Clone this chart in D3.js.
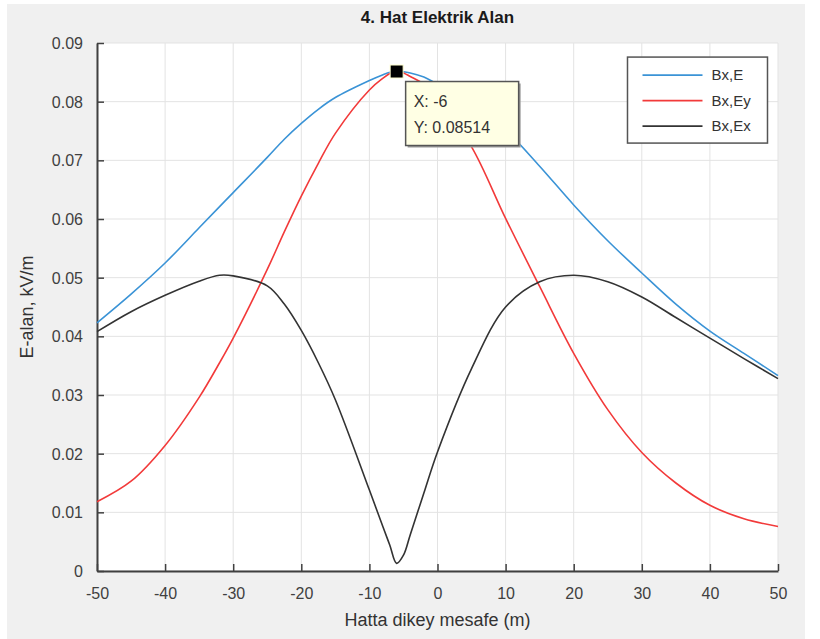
<!DOCTYPE html>
<html>
<head>
<meta charset="utf-8">
<script src="https://cdn.jsdelivr.net/npm/d3@7"></script>
<style>
  html, body { margin: 0; padding: 0; background: #ffffff; }
  svg { display: block; font-family: "Liberation Sans", Arial, sans-serif; }
</style>
</head>
<body>
<div id="chart"></div>
<script>
// distance from the line (m)
const xs = [-50, -45, -40, -35, -32, -30, -25, -22.5, -20, -17.5, -15, -10, -8, -7, -6, -5, -4, -2, 0, 5, 10, 15, 20, 25, 30, 35, 40, 45, 50];

// total field E
const eTotal = [0.0423, 0.0472, 0.0525, 0.0585, 0.0621, 0.0645, 0.0705, 0.0736, 0.0763, 0.0787, 0.0807, 0.0836, 0.0846, 0.0850, 0.08514, 0.0851, 0.0849, 0.0842, 0.0830,
  0.0800, 0.0752, 0.0690, 0.0624, 0.0563, 0.0508, 0.0455, 0.0409, 0.0371, 0.0333];

// vertical component Ey
const eY = [0.0118, 0.0153, 0.0214, 0.0296, 0.0355, 0.0397, 0.0514, 0.0578, 0.0639, 0.0695, 0.0746, 0.0820, 0.0840, 0.0848, 0.08514, 0.0849, 0.0843, 0.0830, 0.0805,
  0.0723, 0.0601, 0.0485, 0.0371, 0.0275, 0.0202, 0.0150, 0.0112, 0.0089, 0.0076];

// horizontal component Ex
const eX = [0.0408, 0.0442, 0.0470, 0.0494, 0.0504, 0.0503, 0.0486, 0.0455, 0.0410, 0.0355, 0.0292, 0.0138, 0.0075, 0.0044, 0.0013, 0.0027, 0.0062, 0.0133, 0.0203,
  0.0345, 0.0450, 0.0493, 0.0504, 0.0493, 0.0467, 0.0432, 0.0397, 0.0362, 0.0328];

const seriesNames = ["Bx,E", "Bx,Ey", "Bx,Ex"];
const seriesColors = ["#3a93d6", "#f23a3a", "#333333"];

const xTicks = [-50, -40, -30, -20, -10, 0, 10, 20, 30, 40, 50];
const yTicks = [0, 0.01, 0.02, 0.03, 0.04, 0.05, 0.06, 0.07, 0.08, 0.09];

const tipX = -6;
const tipY = 0.08514;

const W = 820, H = 639;
const margin = { top: 43, right: 42, bottom: 68, left: 97 };
const width = W - margin.left - margin.right;
const height = H - margin.top - margin.bottom;

const svg = d3.select("#chart").append("svg")
  .attr("width", W)
  .attr("height", H);

// figure background
svg.append("rect")
  .attr("x", 7).attr("y", 4)
  .attr("width", 798).attr("height", H - 4)
  .attr("fill", "#f0f0f0");

const g = svg.append("g")
  .attr("transform", `translate(${margin.left},${margin.top})`);

const x = d3.scaleLinear().domain([-50, 50]).range([0, width]);
const y = d3.scaleLinear().domain([0, 0.09]).range([height, 0]);

g.append("rect")
  .attr("width", width).attr("height", height)
  .attr("fill", "#ffffff");

// grid
g.append("g")
  .selectAll("line")
  .data(xTicks)
  .join("line")
  .attr("x1", (d) => x(d)).attr("x2", (d) => x(d))
  .attr("y1", 0).attr("y2", height)
  .attr("stroke", "#e3e3e3").attr("stroke-width", 1);

g.append("g")
  .selectAll("line")
  .data(yTicks)
  .join("line")
  .attr("x1", 0).attr("x2", width)
  .attr("y1", (d) => y(d)).attr("y2", (d) => y(d))
  .attr("stroke", "#e3e3e3").attr("stroke-width", 1);

// axes, ticks pointing inward
const xAxis = g.append("g")
  .attr("transform", `translate(0,${height})`)
  .call(d3.axisBottom(x).tickValues(xTicks).tickSizeInner(-7).tickSizeOuter(0).tickPadding(17)
    .tickFormat((d) => String(d)));

const yAxis = g.append("g")
  .call(d3.axisLeft(y).tickValues(yTicks).tickSizeInner(-7).tickSizeOuter(0).tickPadding(14)
    .tickFormat((d) => (d === 0 ? "0" : d.toFixed(2))));

[xAxis, yAxis].forEach((ax) => {
  ax.select(".domain").attr("stroke", "#404040").attr("stroke-width", 2);
  ax.selectAll(".tick line").attr("stroke", "#404040").attr("stroke-width", 1.5);
  ax.selectAll(".tick text")
    .attr("fill", "#404040")
    .attr("font-size", "16px")
    .attr("font-family", "Liberation Sans, Arial, sans-serif");
});
yAxis.selectAll(".tick text").attr("dy", "0.35em");

// curves
const series = [eTotal, eY, eX];
const line = d3.line()
  .x((d, i) => x(xs[i]))
  .y((d) => y(d))
  .curve(d3.curveCatmullRom.alpha(0.5));

series.forEach((vals, k) => {
  g.append("path")
    .datum(vals)
    .attr("d", line)
    .attr("fill", "none")
    .attr("stroke", seriesColors[k])
    .attr("stroke-width", 1.6);
});

// legend
const lg = g.append("g").attr("transform", `translate(${x(27.9)},${y(0.0876)})`);
lg.append("rect")
  .attr("width", 140).attr("height", 86)
  .attr("fill", "#ffffff")
  .attr("stroke", "#555555").attr("stroke-width", 1.5);
seriesNames.forEach((name, k) => {
  const ry = 18 + k * 25.5;
  lg.append("line")
    .attr("x1", 15).attr("x2", 75)
    .attr("y1", ry).attr("y2", ry)
    .attr("stroke", seriesColors[k]).attr("stroke-width", 1.6);
  lg.append("text")
    .attr("x", 84).attr("y", ry)
    .attr("dy", "0.35em")
    .attr("font-size", "15px")
    .attr("fill", "#333333")
    .text(name);
});

// data tip
const mx = x(tipX), my = y(tipY);
const tip = g.append("g").attr("transform", `translate(${mx + 9},${my + 10})`);
tip.append("rect")
  .attr("x", 2).attr("y", 2)
  .attr("width", 113).attr("height", 64)
  .attr("fill", "#9a9a9a");
tip.append("rect")
  .attr("width", 113).attr("height", 64)
  .attr("fill", "#ffffe4")
  .attr("stroke", "#555555").attr("stroke-width", 1.5);
tip.append("text")
  .attr("x", 8).attr("y", 20)
  .attr("dy", "0.35em")
  .attr("font-size", "16px").attr("fill", "#333333")
  .text(`X: ${tipX}`);
tip.append("text")
  .attr("x", 8).attr("y", 46)
  .attr("dy", "0.35em")
  .attr("font-size", "16px").attr("fill", "#333333")
  .text(`Y: ${tipY}`);

g.append("rect")
  .attr("x", mx - 6.5).attr("y", my - 6.5)
  .attr("width", 13).attr("height", 13)
  .attr("fill", "#000000")
  .attr("stroke", "#ffffd0").attr("stroke-width", 1);

// title and axis labels
svg.append("text")
  .attr("x", margin.left + width / 2).attr("y", 23)
  .attr("text-anchor", "middle")
  .attr("font-size", "17px").attr("font-weight", "bold")
  .attr("fill", "#1a1a1a")
  .text("4. Hat Elektrik Alan");

svg.append("text")
  .attr("x", margin.left + width / 2).attr("y", 626)
  .attr("text-anchor", "middle")
  .attr("font-size", "18px")
  .attr("fill", "#333333")
  .text("Hatta dikey mesafe (m)");

svg.append("text")
  .attr("transform", `translate(33,${margin.top + height / 2}) rotate(-90)`)
  .attr("text-anchor", "middle")
  .attr("font-size", "18px")
  .attr("fill", "#333333")
  .text("E-alan, kV/m");
</script>
</body>
</html>
